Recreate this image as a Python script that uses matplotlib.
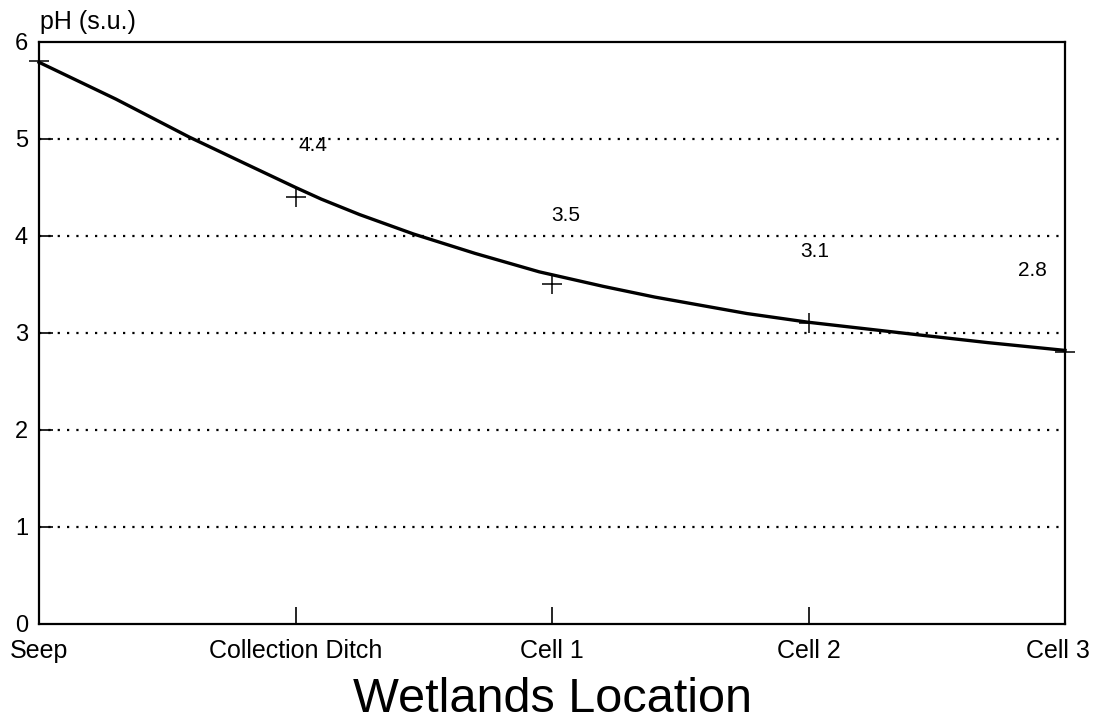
import numpy as np
import matplotlib
matplotlib.use("Agg")
import matplotlib.pyplot as plt
import matplotlib.transforms as mtransforms

plt.rcParams['font.family'] = ['Liberation Sans', 'DejaVu Sans']

locations = ['Seep', 'Collection Ditch', 'Cell 1', 'Cell 2', 'Cell 3']
ph = [5.8, 4.4, 3.5, 3.1, 2.8]
value_labels = ['', '4.4', '3.5', '3.1', '2.8']

# smooth trend line
curve_x = [0, 0.3, 0.585, 0.8, 1.0, 1.1, 1.25, 1.46, 1.7, 1.95, 2.2, 2.4, 2.76, 3.0, 3.43, 3.7, 4.0]
curve_y = [5.79, 5.41, 5.02, 4.75, 4.50, 4.38, 4.22, 4.02, 3.82, 3.63, 3.48, 3.37, 3.20, 3.11, 2.98, 2.90, 2.82]

# label offsets (pixels) from each point
label_dx = [0, 17, 14, 6, -33]
label_dy = [0, 52, 69, 72, 82]

fig = plt.figure(figsize=(10.94, 7.23), dpi=100)
ax = fig.add_axes([0.0357, 0.137, 0.9378, 0.805])

x = np.arange(len(locations))
ax.plot(curve_x, curve_y, '-', color='black', lw=2.4, clip_on=False, zorder=3,
        solid_joinstyle='round')
ax.plot(x, ph, '+', color='black', ms=15, mew=1.1, clip_on=False, zorder=4)

for i in range(len(x)):
    if value_labels[i]:
        ax.annotate(value_labels[i], (x[i], ph[i]), xytext=(label_dx[i] * 0.72, label_dy[i] * 0.72),
                    textcoords='offset points', ha='center', va='center', fontsize=15)

ax.set_xlim(0, 4)
ax.set_ylim(0, 6)
ax.set_xticks(x)
ax.set_xticklabels(locations, fontsize=18)
ax.set_yticks(range(7))
ax.set_yticklabels([str(v) for v in range(7)], fontsize=17)
ax.tick_params(axis='x', direction='in', length=12, width=1.2, pad=11)
ax.tick_params(axis='y', direction='in', length=10, width=1.2, pad=8)

# keep the last label inside the figure
last = ax.get_xticklabels()[-1]
last.set_transform(last.get_transform() + mtransforms.ScaledTranslation(-0.07, 0, fig.dpi_scale_trans))

for v in range(1, 6):
    ax.axhline(v, color='black', lw=1.6, linestyle=(0, (1, 3.2)), zorder=1)

for s in ax.spines.values():
    s.set_linewidth(1.6)

ax.set_xlabel('Wetlands Location', fontsize=35, labelpad=10)
fig.text(0.037, 0.97, 'pH (s.u.)', fontsize=18, ha='left', va='center')

fig.savefig('out.png', dpi=100)
